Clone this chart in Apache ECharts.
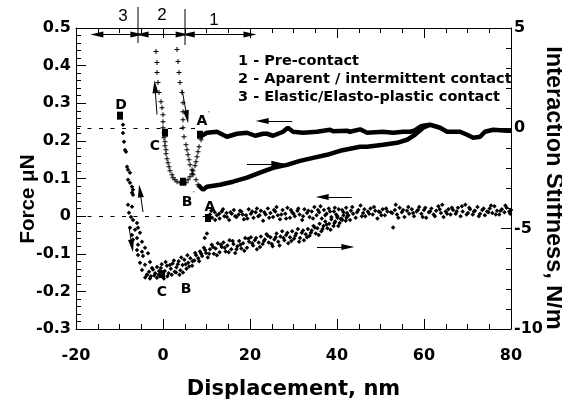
<!DOCTYPE html>
<html>
<head>
<meta charset="utf-8">
<script src="https://cdn.jsdelivr.net/npm/echarts@6/dist/echarts.min.js"></script>
<style>
  html, body { margin: 0; padding: 0; background: #fff; }
  #chart { width: 562px; height: 406px; }
</style>
</head>
<body>
<div id="chart"></div>
<script>
// stiffness (right axis, N/m) vs displacement (nm)
const stiffApproach = [
  [80.0, -0.12], [79.1, -0.12], [75.9, -0.07], [74.0, -0.17], [72.9, -0.42], [71.3, -0.47],
  [69.9, -0.32], [68.3, -0.17], [65.3, -0.17], [63.7, 0.03], [61.4, 0.18], [59.8, 0.13],
  [59.1, 0.08], [57.9, -0.1], [56.8, -0.17], [55.2, -0.17], [52.9, -0.22], [50.6, -0.17],
  [46.9, -0.22], [45.3, -0.05], [43.0, -0.17], [42.3, -0.12], [39.1, -0.15], [38.4, -0.07],
  [35.4, -0.17], [32.2, -0.22], [29.9, -0.17], [28.7, 0.03], [27.6, -0.17], [25.3, -0.37],
  [23.9, -0.27], [23.0, -0.27], [21.2, -0.37], [19.3, -0.22], [17.0, -0.27], [14.7, -0.42],
  [12.4, -0.17], [10.1, -0.22], [8.5, -0.42]
]
const stiffRetract = [
  [8.05, -2.81], [9.2, -3.06], [10.1, -2.91], [13.1, -2.81], [16.1, -2.66], [19.3, -2.46],
  [22.3, -2.21], [25.3, -1.97], [28.5, -1.82], [31.5, -1.62], [34.5, -1.47], [37.7, -1.32],
  [40.7, -1.12], [43.0, -1.02], [45.3, -0.92], [46.9, -0.92], [50.6, -0.82], [53.8, -0.72],
  [56.1, -0.57], [57.9, -0.32], [59.8, 0.03], [61.4, 0.18]
]
// "+" marks: drop from A' to B', then up through C'
const plusApproach = [
  [8.74, -0.57], [8.28, -0.92], [8.05, -1.17], [7.82, -1.42], [7.59, -1.67], [7.36, -1.86],
  [6.90, -2.11], [6.67, -2.26], [6.21, -2.41], [5.75, -2.56], [5.29, -2.71], [4.60, -2.71],
  [3.91, -2.71], [3.22, -2.66], [2.76, -2.56], [2.30, -2.46], [2.07, -2.31], [1.61, -2.11],
  [1.38, -1.91], [1.15, -1.71], [0.92, -1.51], [0.69, -1.27], [0.69, -1.07], [0.46, -0.87],
  [0.46, -0.67], [0.23, -0.47], [0.23, -0.22], [0.0, 0.03], [0.0, 0.33], [0.0, 0.68],
  [-0.23, 1.03], [-0.46, 1.33], [-0.92, 1.78], [-1.15, 2.28], [-1.38, 2.78], [-1.38, 3.28],
  [-1.61, 3.83]
]
const plusRetract = [
  [3.22, 3.93], [3.45, 3.33], [3.68, 2.78], [3.91, 2.28], [4.37, 1.78], [4.60, 1.28],
  [4.60, 0.83], [4.60, 0.43], [4.60, 0.03], [4.83, -0.42], [5.29, -0.82], [5.52, -1.07],
  [5.75, -1.32], [5.98, -1.57], [6.21, -1.81], [6.67, -2.07], [6.90, -2.31], [7.59, -2.56],
  [8.05, -2.81]
]

// force (left axis, uN)
const forceApproach = [
  [10.8, 0.004], [11.3, -0.004], [11.9, 0.010], [12.4, 0.002], [13.0, -0.006], [13.5, 0.012],
  [14.1, 0.000], [14.6, 0.008], [15.2, -0.010], [15.8, 0.006], [16.3, 0.016], [16.9, -0.002],
  [17.4, 0.004], [18.0, 0.012], [18.6, -0.008], [19.1, 0.002], [19.7, 0.018], [20.2, 0.006],
  [20.8, -0.004], [21.3, 0.010], [21.9, 0.000], [22.5, 0.014], [23.0, -0.012], [23.6, 0.004],
  [24.1, 0.020], [24.7, 0.008], [25.3, -0.002], [25.8, 0.012], [26.4, 0.002], [26.9, -0.008],
  [27.5, 0.016], [28.1, 0.006], [28.6, 0.022], [29.2, -0.004], [29.7, 0.010], [30.3, 0.000],
  [30.9, 0.014], [31.4, 0.004], [32.0, -0.010], [32.5, 0.018], [33.1, 0.008], [33.7, -0.002],
  [34.2, 0.012], [34.8, 0.024], [35.3, 0.002], [35.9, 0.010], [36.5, -0.006], [37.0, 0.016],
  [37.6, 0.006], [38.1, 0.020], [38.7, -0.002], [39.3, 0.012], [39.8, 0.004], [40.4, 0.018],
  [40.9, -0.008], [41.5, 0.010], [42.1, 0.022], [42.6, 0.002], [43.2, 0.014], [43.7, 0.006],
  [44.3, -0.004], [44.9, 0.016], [45.4, 0.028], [46.0, 0.008], [46.5, 0.000], [47.1, 0.012],
  [47.7, 0.020], [48.2, 0.004], [48.8, 0.014], [49.3, -0.006], [49.9, 0.010], [50.5, 0.018],
  [51.0, 0.002], [51.6, 0.012], [52.7, 0.008], [52.9, -0.030], [53.3, 0.016], [53.8, 0.004],
  [54.4, 0.022], [54.9, 0.010], [55.5, -0.002], [56.1, 0.014], [56.6, 0.006], [57.2, 0.018],
  [57.7, 0.000], [58.3, 0.012], [58.9, 0.024], [59.4, 0.006], [60.0, 0.016], [60.5, -0.004],
  [61.1, 0.010], [61.7, 0.020], [62.2, 0.004], [62.8, 0.014], [63.3, 0.026], [63.9, 0.008],
  [64.5, -0.002], [65.0, 0.012], [65.6, 0.018], [66.1, 0.004], [66.7, 0.016], [67.3, 0.006],
  [67.8, 0.022], [68.4, 0.000], [68.9, 0.012], [69.5, 0.030], [70.1, 0.008], [70.6, 0.018],
  [71.2, 0.004], [71.7, 0.014], [72.3, 0.024], [72.9, 0.006], [73.4, 0.016], [74.0, 0.002],
  [74.5, 0.012], [75.1, 0.020], [75.7, 0.008], [76.2, 0.026], [76.8, 0.014], [77.3, 0.004],
  [77.9, 0.018], [78.5, 0.010], [79.0, 0.022], [79.6, 0.012], [80.0, 0.016]
]
const forceApproach2 = [
  [11.1, 0.014], [12.0, -0.010], [12.9, 0.006], [13.8, 0.018], [14.7, -0.002], [15.5, 0.010],
  [16.6, 0.000], [17.7, 0.014], [18.3, 0.004], [19.4, -0.006], [20.5, 0.012], [21.6, 0.020],
  [22.2, 0.002], [23.3, 0.010], [24.4, -0.004], [25.5, 0.016], [26.1, 0.024], [27.2, 0.004],
  [28.3, -0.006], [29.4, 0.016], [30.0, 0.006], [31.1, 0.020], [32.2, 0.000], [33.4, 0.014],
  [34.5, -0.006], [35.6, 0.016], [36.2, 0.026], [37.3, 0.002], [38.4, 0.012], [39.5, 0.022],
  [40.1, 0.000], [41.2, 0.016], [42.3, 0.008], [43.5, 0.024], [44.6, 0.010], [45.7, 0.000],
  [46.3, 0.018], [47.4, 0.006], [48.5, 0.024], [49.6, 0.012], [50.2, 0.002], [51.3, 0.020],
  [52.4, 0.010], [53.5, 0.030], [54.1, -0.004], [55.2, 0.016], [56.4, 0.024], [57.5, 0.008],
  [58.6, 0.016], [59.7, -0.002], [60.3, 0.022], [61.4, 0.012], [62.5, 0.000], [63.6, 0.018],
  [64.2, 0.030], [65.3, 0.006], [66.4, 0.022], [67.5, 0.012], [68.7, 0.026], [69.8, 0.004],
  [70.4, 0.022], [71.5, 0.012], [72.6, 0.000], [73.7, 0.020], [74.8, 0.010], [75.4, 0.028],
  [76.5, 0.004], [77.6, 0.014], [78.7, 0.028], [79.8, 0.006]
]
const forceRetract = [
  [8.1, -0.112], [8.5, -0.094], [9.0, -0.106], [9.4, -0.084], [9.6, -0.058], [9.9, -0.098],
  [10.1, -0.046], [10.3, -0.110], [10.8, -0.088], [11.2, -0.076], [11.7, -0.100], [12.1, -0.086],
  [12.6, -0.072], [13.0, -0.096], [13.5, -0.082], [13.9, -0.070], [14.4, -0.094], [14.8, -0.078],
  [15.3, -0.064], [15.7, -0.088], [16.2, -0.074], [16.6, -0.098], [17.1, -0.080], [17.5, -0.066],
  [18.0, -0.086], [18.4, -0.072], [18.9, -0.058], [19.3, -0.084], [19.8, -0.068], [20.2, -0.056],
  [20.7, -0.078], [21.1, -0.064], [21.6, -0.088], [22.0, -0.070], [22.5, -0.054], [22.9, -0.074],
  [23.4, -0.062], [23.8, -0.048], [24.3, -0.070], [24.7, -0.056], [25.2, -0.080], [25.6, -0.062],
  [26.1, -0.046], [26.5, -0.068], [27.0, -0.054], [27.4, -0.040], [27.9, -0.064], [28.3, -0.050],
  [28.8, -0.072], [29.2, -0.056], [29.7, -0.040], [30.1, -0.060], [30.6, -0.046], [31.0, -0.034],
  [31.5, -0.058], [31.9, -0.044], [32.4, -0.064], [32.8, -0.048], [33.3, -0.034], [33.7, -0.052],
  [34.2, -0.038], [34.6, -0.026], [35.1, -0.046], [35.5, -0.032], [36.0, -0.020], [36.4, -0.040],
  [36.9, -0.026], [37.3, -0.014], [37.8, -0.032], [38.2, -0.020], [38.7, -0.008], [39.2, -0.026],
  [39.6, -0.014], [40.1, -0.004], [40.6, -0.018], [41.0, -0.006], [41.5, 0.002], [42.0, -0.012],
  [42.4, 0.000]
]
const forceRetract2 = [
  [8.3, -0.120], [8.8, -0.100], [9.7, -0.090], [10.6, -0.100], [11.5, -0.082], [12.4, -0.104],
  [13.3, -0.076], [14.2, -0.084], [15.1, -0.096], [16.0, -0.066], [16.9, -0.088], [17.8, -0.076],
  [18.7, -0.092], [19.6, -0.060], [20.5, -0.072], [21.4, -0.058], [22.3, -0.082], [23.2, -0.066],
  [24.1, -0.052], [25.0, -0.074], [25.9, -0.056], [26.8, -0.078], [27.7, -0.058], [28.6, -0.044],
  [29.5, -0.066], [30.4, -0.052], [31.3, -0.068], [32.2, -0.038], [33.1, -0.056], [34.0, -0.044],
  [34.9, -0.030], [35.8, -0.050], [36.7, -0.034], [37.6, -0.022], [38.5, -0.036], [39.4, -0.018],
  [40.3, -0.026], [41.2, -0.010], [42.2, -0.004], [43.0, -0.010]
]
// bottom of the well around B and C
const forceWell = [
  [-3.7, -0.156], [-3.2, -0.148], [-2.8, -0.160], [-2.3, -0.142], [-1.8, -0.152], [-1.4, -0.164],
  [-0.9, -0.146], [-0.5, -0.138], [0.0, -0.156], [0.4, -0.146], [0.9, -0.132], [1.3, -0.152],
  [1.8, -0.140], [2.2, -0.126], [2.7, -0.148], [3.1, -0.136], [3.6, -0.120], [4.0, -0.144],
  [4.5, -0.130], [4.9, -0.116], [5.4, -0.140], [5.8, -0.124], [6.3, -0.112], [6.7, -0.132],
  [7.2, -0.118], [7.6, -0.104], [-3.0, -0.166], [-2.0, -0.158], [-1.0, -0.156], [0.2, -0.166],
  [1.0, -0.160], [2.0, -0.156], [3.0, -0.150], [3.8, -0.156], [4.6, -0.150], [5.2, -0.128],
  [6.0, -0.134], [6.8, -0.120], [0.6, -0.122], [-0.3, -0.128], [2.5, -0.118], [4.2, -0.110],
  [5.6, -0.104], [7.4, -0.098], [1.6, -0.130], [3.4, -0.128], [-4.1, -0.163]
]
// descent from D
const forceDrop = [
  [-9.2, 0.243], [-9.2, 0.221], [-8.97, 0.198], [-8.74, 0.176], [-8.5, 0.171], [-8.28, 0.131],
  [-8.05, 0.123], [-7.59, 0.115], [-8.05, 0.097], [-7.59, 0.089], [-7.13, 0.078], [-6.9, 0.07],
  [-7.13, 0.062], [-6.9, 0.057], [-8.05, 0.030], [-7.13, 0.025], [-7.82, 0.009], [-7.36, -0.002],
  [-6.9, -0.010], [-5.98, -0.018], [-7.59, -0.031], [-6.44, -0.036], [-5.75, -0.031], [-7.13, -0.05],
  [-5.98, -0.058], [-5.29, -0.044], [-6.9, -0.063], [-5.75, -0.076], [-4.83, -0.068], [-5.98, -0.09],
  [-4.83, -0.095], [-4.14, -0.084], [-5.75, -0.103], [-4.6, -0.106], [-3.45, -0.099], [-5.29, -0.124],
  [-4.14, -0.129], [-2.99, -0.122], [-4.83, -0.143], [-3.68, -0.156], [-2.53, -0.138], [-1.38, -0.135]
]
const forceSquares = [[-9.89, 0.267], [10.34, -0.005], [-0.23, -0.154]]   // D, A, C
const stiffSquares = [[0.46, -0.22], [8.51, -0.32], [4.6, -2.66]]         // C', A', B'

const xTicks = { min: -20, max: 80, step: 20 }
const forceTicks = { min: -0.3, max: 0.5, step: 0.1 }
const stiffTicks = { min: -10, max: 5, step: 5 }

const legendLines = [
  '1 - Pre-contact',
  '2 - Aparent / intermittent contact',
  '3 - Elastic/Elasto-plastic contact'
]

const WIDE = '"DejaVu Sans", Verdana, sans-serif'
const ARIAL = '"Liberation Sans", Arial, sans-serif'
const plusPath = 'path://M4,0H6V4H10V6H6V10H4V6H0V4H4Z'

const arrow = (a, b, both) => [
  { coord: a, symbol: both ? 'triangle' : 'none' },
  { coord: b, symbol: 'triangle' }
]

const axisCommon = {
  nameMoveOverlap: false,
  axisLine: { show: true, onZero: false, lineStyle: { color: '#000', width: 1 } },
  axisTick: { show: true, inside: true, length: 10, lineStyle: { color: '#000' } },
  minorTick: { show: true, length: 5, lineStyle: { color: '#000' } },
  splitLine: { show: false },
  axisLabel: { color: '#000', fontSize: 16, fontWeight: 'bold', fontFamily: WIDE }
}
const dots = { color: '#000', opacity: 1 }
const txt = (text, x, y, font, extra) => ({
  type: 'text', x, y, ...extra,
  style: { text, font, fill: '#000', align: 'center', verticalAlign: 'middle' }
})

const chart = echarts.init(document.getElementById('chart'))
chart.setOption({
  animation: false,
  backgroundColor: '#fff',
  grid: { left: 76, right: 51, top: 28, bottom: 77, outerBoundsMode: 'none', containLabel: false },
  xAxis: [
    {
      ...axisCommon,
      type: 'value',
      position: 'bottom',
      min: xTicks.min, max: xTicks.max, interval: xTicks.step,
      minorTick: { ...axisCommon.minorTick, splitNumber: 4 },
      axisLabel: { ...axisCommon.axisLabel, margin: 19 },
      name: 'Displacement, nm',
      nameLocation: 'middle',
      nameGap: 50,
      nameTextStyle: { color: '#000', fontSize: 21, fontWeight: 'bold', fontFamily: WIDE }
    },
    {
      ...axisCommon,
      type: 'value',
      position: 'top',
      min: xTicks.min, max: xTicks.max, interval: xTicks.step,
      minorTick: { ...axisCommon.minorTick, splitNumber: 4 },
      axisLabel: { show: false }
    }
  ],
  yAxis: [
    {
      ...axisCommon,
      type: 'value',
      position: 'left',
      min: forceTicks.min, max: forceTicks.max, interval: forceTicks.step,
      minorTick: { ...axisCommon.minorTick, splitNumber: 5 },
      axisLabel: { ...axisCommon.axisLabel, margin: 5, formatter: v => String(+v.toFixed(1)) }
    },
    {
      ...axisCommon,
      type: 'value',
      position: 'right',
      min: stiffTicks.min, max: stiffTicks.max, interval: stiffTicks.step,
      minorTick: { ...axisCommon.minorTick, splitNumber: 5 },
      axisLabel: { ...axisCommon.axisLabel, margin: 3 }
    }
  ],
  series: [
    {
      type: 'line', yAxisIndex: 1, data: stiffApproach, showSymbol: false, symbol: 'none',
      lineStyle: { color: '#000', width: 4.5 }, silent: true,
      markLine: {
        silent: true, symbol: 'none', label: { show: false },
        lineStyle: { color: '#000', width: 1, type: [4, 7.5] },
        data: [[{ coord: [-20, 0] }, { coord: [8, 0] }]]
      }
    },
    {
      type: 'line', yAxisIndex: 1, data: stiffRetract, showSymbol: false, symbol: 'none',
      lineStyle: { color: '#000', width: 4.5 }, silent: true
    },
    {
      type: 'scatter', yAxisIndex: 1, data: plusApproach.concat(plusRetract),
      symbol: plusPath, symbolSize: 5, itemStyle: dots, silent: true
    },
    {
      type: 'scatter', yAxisIndex: 0,
      data: forceApproach.concat(forceApproach2, forceRetract, forceRetract2, forceWell, forceDrop),
      symbol: 'diamond', symbolSize: 4.5, itemStyle: dots, silent: true,
      markLine: {
        silent: true, symbol: ['none', 'triangle'], symbolSize: [6, 13], label: { show: false },
        lineStyle: { color: '#000', width: 1, type: 'solid' },
        data: [
          [{ coord: [-20, 0], symbol: 'none', lineStyle: { type: [4, 7.5] } }, { coord: [10.6, 0], symbol: 'none' }],
          // phase arrows along the top
          arrow([-15.2, 0.483], [-6.0, 0.483], true),
          arrow([-4.8, 0.483], [4.4, 0.483], true),
          arrow([5.8, 0.483], [20.0, 0.483], true),
          // direction arrows
          arrow([29.7, 0.253], [22.8, 0.253]),
          arrow([19.3, 0.139], [26.4, 0.139]),
          arrow([43.4, 0.051], [36.6, 0.051]),
          arrow([35.4, -0.082], [42.5, -0.082]),
          arrow([-1.38, 0.270], [-1.84, 0.344]),
          arrow([4.37, 0.336], [5.52, 0.264]),
          arrow([-4.6, 0.011], [-5.29, 0.067]),
          arrow([-7.82, -0.028], [-7.13, -0.079])
        ]
      }
    },
    {
      type: 'scatter', yAxisIndex: 0, data: forceSquares,
      symbol: 'rect', symbolSize: [6, 8], itemStyle: dots, silent: true
    },
    {
      type: 'scatter', yAxisIndex: 1, data: stiffSquares,
      symbol: 'rect', symbolSize: [6, 8], itemStyle: dots, silent: true
    }
  ],
  graphic: [
    // y axis titles
    txt('Force μN', 28, 199, 'bold 20.5px ' + ARIAL, { rotation: Math.PI / 2 }),
    txt('Interaction Stiffness, N/m', 553, 188, 'bold 23.5px ' + ARIAL, { rotation: -Math.PI / 2 }),
    // phase separators and numbers
    { type: 'line', shape: { x1: 138, y1: 7, x2: 138, y2: 43 }, style: { stroke: '#000', lineWidth: 1 } },
    { type: 'line', shape: { x1: 185, y1: 9, x2: 185, y2: 45 }, style: { stroke: '#000', lineWidth: 1 } },
    txt('3', 123, 16, '17px ' + ARIAL),
    txt('2', 162, 15, '17px ' + ARIAL),
    txt('1', 214, 20, '17px ' + ARIAL),
    ...legendLines.map((t, i) => ({
      type: 'text', x: 238, y: 61 + i * 18,
      style: { text: t, font: 'bold 14.5px ' + WIDE, fill: '#000', align: 'left', verticalAlign: 'middle' }
    })),
    ...[['D', 121, 105], ['C', 155, 146], ['A', 202, 121], ['B', 187, 202],
      ['A', 210, 207], ['C', 162, 292], ['B', 186, 289]].map(([t, x, y]) => txt(t, x, y, 'bold 14px ' + WIDE)),
    txt('\'', 209, 114, '7px ' + ARIAL),
    txt('\'', 194, 194, '7px ' + ARIAL)
  ]
})
</script>
</body>
</html>
